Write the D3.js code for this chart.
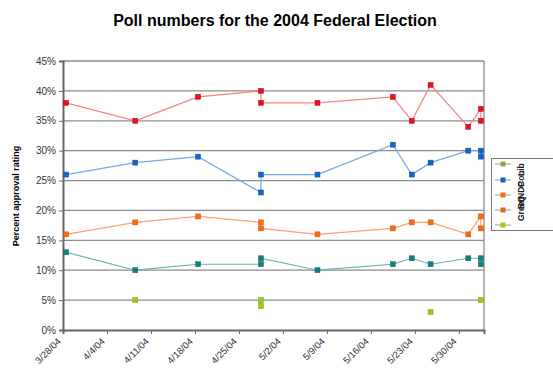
<!DOCTYPE html>
<html>
<head>
<meta charset="utf-8">
<script src="https://cdn.jsdelivr.net/npm/d3@7"></script>
<style>
  body { margin: 0; background: #fff; }
  svg { display: block; font-family: "Liberation Sans", Arial, sans-serif; }
</style>
</head>
<body>
<script>
// poll dates (same date may appear twice)
const pollDates = ["2004-03-28", "2004-04-08", "2004-04-18", "2004-04-28", "2004-04-28", "2004-05-07",
  "2004-05-19", "2004-05-22", "2004-05-25", "2004-05-31", "2004-06-02", "2004-06-02"];
const lib = [38, 35, 39, 40, 38, 38, 39, 35, 41, 34, 37, 35];
const con = [26, 28, 29, 23, 26, 26, 31, 26, 28, 30, 30, 29];
const ndp = [16, 18, 19, 18, 17, 16, 17, 18, 18, 16, 19, 17];
const bq = [13, 10, 11, 11, 12, 10, 11, 12, 11, 12, 12, 11];
const grn = [null, 5, null, 5, 4, null, null, null, 3, null, 5, null];
const seriesNames = ["Lib", "Con", "NDP", "BQ", "Green"];
const xTickLabels = ["3/28/04", "4/4/04", "4/11/04", "4/18/04", "4/25/04", "5/2/04",
  "5/9/04", "5/16/04", "5/23/04", "5/30/04"];
const yTicks = [0, 5, 10, 15, 20, 25, 30, 35, 40, 45];

const width = 553, height = 370;
const plotLeft = 63, plotRight = 484, plotTop = 61, plotBottom = 330;

const lineColors = ["#ff8080", "#74a9e6", "#ffa068", "#5fb5b5", "#9acd32"];
const markColors = ["#e8101a", "#1463c6", "#fa6a12", "#14807e", "#9acc10"];
const legendColors = ["#a0a040", "#1463c6", "#fa6a12", "#d86a20", "#9acc10"];

const parse = d3.utcParse("%Y-%m-%d");
const parseTick = d3.utcParse("%m/%d/%y");

const x = d3.scaleUtc()
  .domain([parse("2004-03-28"), parse("2004-06-03")])
  .range([plotLeft, plotRight]);
const y = d3.scaleLinear().domain([0, 45]).range([plotBottom, plotTop]);

// excel date axis: points sit in the middle of the day
const xMid = s => x(d3.utcHour.offset(parse(s), 12));

const series = [lib, con, ndp, bq, grn].map((vals, i) => ({
  name: seriesNames[i],
  values: vals.map((v, j) => ({date: pollDates[j], v}))
}));

const svg = d3.select("body").append("svg")
  .attr("width", width)
  .attr("height", height);

svg.append("text")
  .attr("x", 275)
  .attr("y", 26)
  .attr("text-anchor", "middle")
  .style("font-size", "16px")
  .style("font-weight", "bold")
  .text("Poll numbers for the 2004 Federal Election");

// gridlines
svg.append("g")
  .selectAll("line")
  .data(yTicks.slice(1))
  .join("line")
  .attr("x1", plotLeft).attr("x2", plotRight)
  .attr("y1", d => y(d)).attr("y2", d => y(d))
  .attr("stroke", "#8c8c8c")
  .attr("stroke-width", 1.3);

svg.append("line")
  .attr("x1", plotRight).attr("x2", plotRight)
  .attr("y1", plotTop).attr("y2", plotBottom)
  .attr("stroke", "#8c8c8c")
  .attr("stroke-width", 1.3);

// y axis
const yAxis = d3.axisLeft(y)
  .tickValues(yTicks)
  .tickSize(4)
  .tickPadding(3)
  .tickFormat(d => d + "%");
svg.append("g")
  .attr("transform", `translate(${plotLeft},0)`)
  .call(yAxis)
  .call(g => g.select(".domain").attr("stroke", "#666").attr("stroke-width", 2))
  .call(g => g.selectAll(".tick line").attr("stroke", "#666"))
  .call(g => g.selectAll("text")
    .style("font-size", "10px")
    .style("font-family", "Liberation Sans, Arial, sans-serif")
    .attr("fill", "#333"));

// x axis
const xAxis = d3.axisBottom(x)
  .tickValues(xTickLabels.map(parseTick))
  .tickSize(4)
  .tickFormat((d, i) => xTickLabels[i]);
svg.append("g")
  .attr("transform", `translate(0,${plotBottom})`)
  .call(xAxis)
  .call(g => g.select(".domain").attr("stroke", "#666").attr("stroke-width", 2))
  .call(g => g.selectAll(".tick line").attr("stroke", "#666"))
  .call(g => g.selectAll("text")
    .attr("text-anchor", "end")
    .attr("dy", null)
    .attr("y", 0)
    .attr("transform", "translate(-2,12) rotate(-45)")
    .style("font-size", "9.5px")
    .style("font-family", "Liberation Sans, Arial, sans-serif")
    .attr("fill", "#333"));

svg.append("text")
  .attr("transform", "translate(19,196) rotate(-90)")
  .attr("text-anchor", "middle")
  .style("font-size", "9px")
  .style("font-weight", "bold")
  .text("Percent approval rating");

// lines + markers
const line = d3.line()
  .defined(d => d.v != null)
  .x(d => xMid(d.date))
  .y(d => y(d.v));

const sg = svg.append("g")
  .selectAll("g")
  .data(series)
  .join("g");

sg.append("path")
  .attr("d", d => line(d.values))
  .attr("fill", "none")
  .attr("stroke", (d, i) => lineColors[i])
  .attr("stroke-width", 1.2);

sg.each(function (s, i) {
  d3.select(this).selectAll("rect")
    .data(s.values.filter(d => d.v != null))
    .join("rect")
    .attr("x", d => xMid(d.date) - 2.5)
    .attr("y", d => y(d.v) - 2.5)
    .attr("width", 5)
    .attr("height", 5)
    .attr("fill", markColors[i])
    .attr("stroke", d3.color(markColors[i]).darker(0.6))
    .attr("stroke-width", 0.5);
});

// legend (rendered cramped, as in the original)
const lg = svg.append("g");
lg.append("rect")
  .attr("x", 491.5).attr("y", 158.5)
  .attr("width", 70).attr("height", 72)
  .attr("fill", "#fff")
  .attr("stroke", "#777");

const ly = [164, 180, 195, 210, 225];
lg.selectAll("line.key")
  .data(ly)
  .join("line")
  .attr("class", "key")
  .attr("x1", 495).attr("x2", 511)
  .attr("y1", d => d).attr("y2", d => d)
  .attr("stroke", "#999");
lg.selectAll("rect.key")
  .data(ly)
  .join("rect")
  .attr("class", "key")
  .attr("x", 500.5).attr("y", d => d - 2.5)
  .attr("width", 5).attr("height", 5)
  .attr("fill", (d, i) => legendColors[i]);

const labelStart = [176, 187, 199, 209, 221];
lg.selectAll("text")
  .data(seriesNames)
  .join("text")
  .attr("transform", (d, i) => `translate(524,${labelStart[i]}) rotate(-90)`)
  .style("font-size", "8.5px")
  .style("font-weight", "bold")
  .attr("fill", "#222")
  .text(d => d);
</script>
</body>
</html>
